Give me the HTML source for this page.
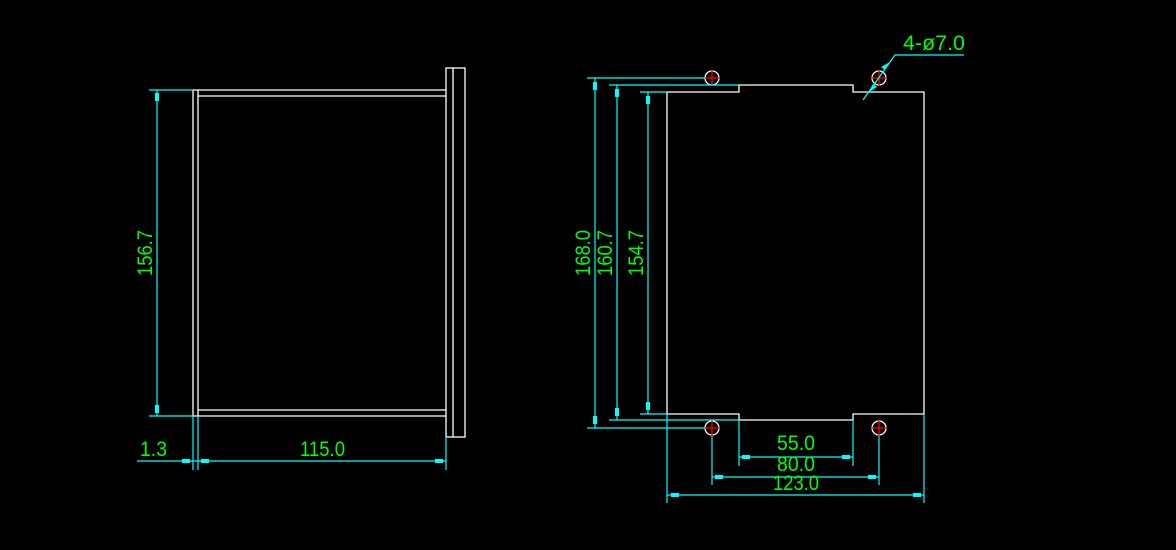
<!DOCTYPE html>
<html><head><meta charset="utf-8"><style>html,body{margin:0;padding:0;background:#000}svg{display:block}</style></head>
<body>
<svg width="1176" height="550" viewBox="0 0 1176 550" xmlns="http://www.w3.org/2000/svg">
<rect width="1176" height="550" fill="#000"/>
<g stroke="#fff" stroke-width="1.3" fill="none">
<!-- left view -->
<line x1="193" y1="90" x2="193" y2="416"/>
<line x1="198" y1="90" x2="198" y2="416"/>
<line x1="193" y1="90" x2="446" y2="90"/>
<line x1="198" y1="96" x2="446" y2="96"/>
<line x1="198" y1="410" x2="446" y2="410"/>
<line x1="193" y1="416" x2="446" y2="416"/>
<rect x="446" y="68" width="19" height="369"/>
<line x1="453" y1="68" x2="453" y2="437"/>
<!-- right view -->
<polyline points="667,414 667,92 739,92 739,85 853,85 853,92 924,92 924,414 853,414 853,420 739,420 739,414 667,414"/>
<circle cx="712" cy="78" r="7"/><circle cx="879" cy="78" r="7"/>
<circle cx="712" cy="428" r="7"/><circle cx="879" cy="428" r="7"/>
</g>
<g stroke="#f00" stroke-width="1.3">
<line x1="704" y1="78" x2="720" y2="78"/><line x1="712" y1="70" x2="712" y2="86"/>
<line x1="871" y1="78" x2="887" y2="78"/><line x1="879" y1="70" x2="879" y2="86"/>
<line x1="704" y1="428" x2="720" y2="428"/><line x1="712" y1="420" x2="712" y2="436"/>
<line x1="871" y1="428" x2="887" y2="428"/><line x1="879" y1="420" x2="879" y2="436"/>
</g>
<g stroke="#0ff" stroke-width="1.2" fill="none">
<!-- left dims -->
<line x1="149" y1="90" x2="193" y2="90"/><line x1="149" y1="416" x2="193" y2="416"/>
<line x1="157" y1="90" x2="157" y2="416"/>
<line x1="193" y1="416" x2="193" y2="470"/><line x1="198" y1="416" x2="198" y2="470"/>
<line x1="446" y1="437" x2="446" y2="470"/>
<line x1="137" y1="461" x2="446" y2="461"/>
<!-- right vertical dims -->
<line x1="587" y1="78" x2="705" y2="78"/><line x1="609" y1="85" x2="739" y2="85"/><line x1="640" y1="92" x2="667" y2="92"/>
<line x1="587" y1="428" x2="705" y2="428"/><line x1="609" y1="420" x2="739" y2="420"/><line x1="640" y1="414" x2="667" y2="414"/>
<line x1="595" y1="78" x2="595" y2="428"/><line x1="617" y1="85" x2="617" y2="420"/><line x1="648" y1="92" x2="648" y2="414"/>
<!-- bottom dims -->
<line x1="739" y1="420" x2="739" y2="466"/><line x1="853" y1="420" x2="853" y2="466"/>
<line x1="739" y1="457" x2="853" y2="457"/>
<line x1="712" y1="436" x2="712" y2="485"/><line x1="879" y1="436" x2="879" y2="485"/>
<line x1="712" y1="477" x2="879" y2="477"/>
<line x1="667" y1="414" x2="667" y2="503"/><line x1="924" y1="414" x2="924" y2="503"/>
<line x1="667" y1="495" x2="924" y2="495"/>
<!-- leader -->
<polyline points="863,100 895,55 964,55"/>
</g>
<g fill="#0ff">
<!-- arrows as small blocks -->
<rect x="155" y="93" width="4" height="8"/><rect x="155" y="405" width="4" height="8"/>
<rect x="182" y="459" width="8" height="4"/><rect x="201" y="459" width="8" height="4"/><rect x="435" y="459" width="8" height="4"/>
<rect x="593" y="82" width="4" height="8"/><rect x="593" y="416" width="4" height="8"/>
<rect x="615" y="89" width="4" height="8"/><rect x="615" y="408" width="4" height="8"/>
<rect x="646" y="96" width="4" height="8"/><rect x="646" y="402" width="4" height="8"/>
<rect x="742" y="455" width="8" height="4"/><rect x="842" y="455" width="8" height="4"/>
<rect x="715" y="475" width="8" height="4"/><rect x="868" y="475" width="8" height="4"/>
<rect x="671" y="493" width="8" height="4"/><rect x="913" y="493" width="8" height="4"/>
<polygon points="890,62 885,70 881,67"/><polygon points="869,92 873,84 877,87"/>
</g>
<g fill="#0f0" font-family="Liberation Sans, sans-serif" font-size="21">
<text x="140" y="456" textLength="27" lengthAdjust="spacingAndGlyphs">1.3</text>
<text x="300" y="456" textLength="45" lengthAdjust="spacingAndGlyphs">115.0</text>
<text x="777" y="450" textLength="38" lengthAdjust="spacingAndGlyphs">55.0</text>
<text x="777" y="471" textLength="38" lengthAdjust="spacingAndGlyphs">80.0</text>
<text x="773" y="490" textLength="46" lengthAdjust="spacingAndGlyphs">123.0</text>
<text x="903" y="50" textLength="62" lengthAdjust="spacingAndGlyphs">4-ø7.0</text>
<text transform="translate(152,276) rotate(-90)" textLength="46" lengthAdjust="spacingAndGlyphs">156.7</text>
<text transform="translate(590,276) rotate(-90)" textLength="46" lengthAdjust="spacingAndGlyphs">168.0</text>
<text transform="translate(612,276) rotate(-90)" textLength="46" lengthAdjust="spacingAndGlyphs">160.7</text>
<text transform="translate(643,276) rotate(-90)" textLength="46" lengthAdjust="spacingAndGlyphs">154.7</text>
</g>
</svg>
</body></html>
